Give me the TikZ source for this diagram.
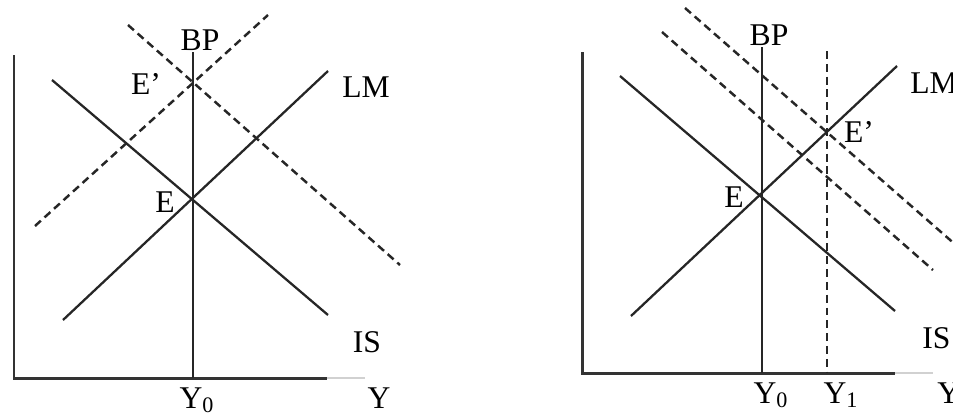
\documentclass[tikz,border=0pt]{standalone}
\usepackage{fontspec}
\setmainfont{Liberation Serif}
\usetikzlibrary{positioning, calc}
\tikzset{
  curve/.style = {line width = 1.3pt, draw = black!85},
  shifted/.style = {curve, line width = 1.4pt, dash pattern = on 4.5pt off 2.8pt},
  axis/.style = {line width = 1.7pt, draw = black!80},
  faint/.style = {line width = 1.3pt, draw = black!18},
  lbl/.style = {inner sep = 0pt, anchor = base, font = \fontsize{18}{21}\selectfont}
}

\begin{document}
\begin{tikzpicture}[x = 0.02cm, y = -0.02cm]
\useasboundingbox (0,0) rectangle (953,416);

% left panel: points
\coordinate (o1) at (14,378);
\coordinate (yt1) at (14,55);
\coordinate (xe1) at (327,378);
\coordinate (xf1) at (365,378);
\coordinate (bpt1) at (193,52);
\coordinate (bpb1) at (193,378);
\coordinate (is1a) at (52,80);
\coordinate (is1b) at (328,315);
\coordinate (lm1a) at (63,320);
\coordinate (lm1b) at (328,71);
\coordinate (isd1a) at (128,25);
\coordinate (isd1b) at (400,265);
\coordinate (lmd1a) at (35,226);
\coordinate (lmd1b) at (268,15);

\draw [axis] (yt1) -- (o1) -- (xe1);
\draw [faint] (xe1) -- (xf1);
\draw [curve] (bpt1) -- (bpb1);
\draw [curve] (is1a) -- (is1b);
\draw [curve] (lm1a) -- (lm1b);
\draw [shifted] (isd1a) -- (isd1b);
\draw [shifted] (lmd1a) -- (lmd1b);

\node [lbl] (bp1) at (200,50) {BP};
\node [lbl] (ep1) at (146,94) {E’};
\node [lbl] (lmt1) at (366,97) {LM};
\node [lbl] (e1) at (165,212) {E};
\node [lbl] (ist1) at (367,352) {IS};
\node [lbl] (y01) at (197,408) {Y\textsubscript{0}};
\node [lbl] (y1) at (379,408) {Y};

% right panel: points
\coordinate (o2) at (582,373);
\coordinate (yt2) at (582,52);
\coordinate (xe2) at (895,373);
\coordinate (xf2) at (933,373);
\coordinate (bpt2) at (762,47);
\coordinate (bpb2) at (762,373);
\coordinate (is2a) at (620,76);
\coordinate (is2b) at (895,311);
\coordinate (lm2a) at (631,316);
\coordinate (lm2b) at (897,66);
\coordinate (v2t) at (827,51);
\coordinate (v2b) at (827,373);
\coordinate (bpd2a) at (685,8);
\coordinate (bpd2b) at (965,253);
\coordinate (bpd3a) at (662,32);
\coordinate (bpd3b) at (933,270);

\draw [axis] (yt2) -- (o2) -- (xe2);
\draw [faint] (xe2) -- (xf2);
\draw [curve] (bpt2) -- (bpb2);
\draw [curve] (is2a) -- (is2b);
\draw [curve] (lm2a) -- (lm2b);
\draw [shifted] (v2t) -- (v2b);
\draw [shifted] (bpd2a) -- (bpd2b);
\draw [shifted] (bpd3a) -- (bpd3b);

\node [lbl] (bp2) at (769,45) {BP};
\node [lbl, anchor = base west] (lmt2) at (910,93) {LM};
\node [lbl] (ep2) at (859,142) {E’};
\node [lbl] (e2) at (734,207) {E};
\node [lbl, anchor = base west] (ist2) at (922,348) {IS};
\node [lbl] (y02) at (771,403) {Y\textsubscript{0}};
\node [lbl] (y12) at (841,403) {Y\textsubscript{1}};
\node [lbl, anchor = base west] (y2) at (937,403) {Y};

\end{tikzpicture}
\end{document}
